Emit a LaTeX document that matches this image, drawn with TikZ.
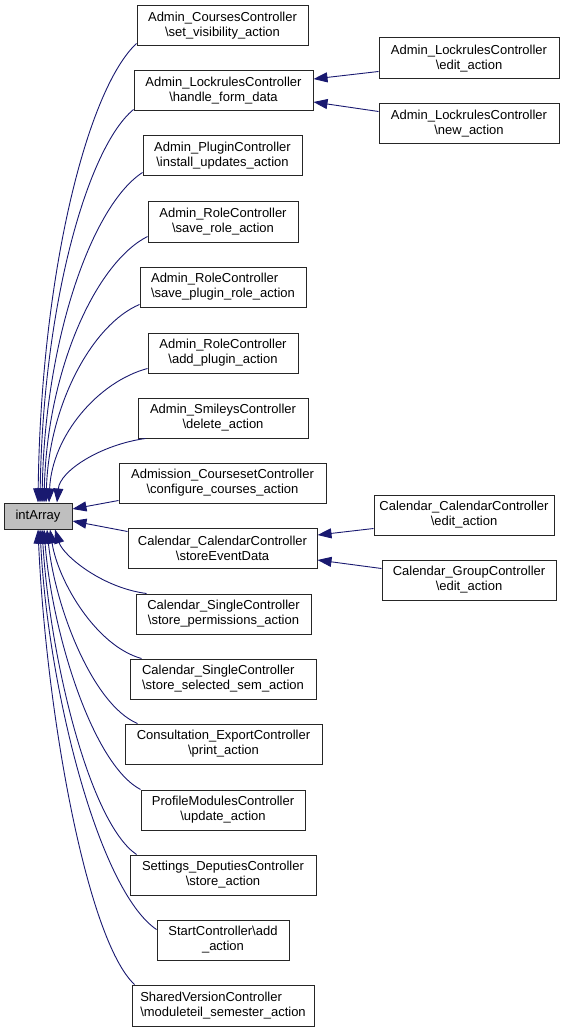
\documentclass[tikz,border=0pt]{standalone}
\usepackage{fontspec}
\setmainfont{Liberation Sans}
\usetikzlibrary{arrows.meta}
\definecolor{edgeblue}{HTML}{191970}
\definecolor{rootgray}{HTML}{BFBFBF}
\newcommand\dlbl[2]{\begingroup\setbox0=\hbox{#1}\setbox2=\hbox{#2}\dimen0=\wd0 \ifdim\wd2>\dimen0 \dimen0=\wd2 \fi\vbox{\hbox to\dimen0{\box0\hfil}\hbox to\dimen0{\hfil\box2\hfil}}\endgroup}
\newcommand\bx[6]{\node[box, minimum width={(#4-#2)*1pt}, minimum height={(#5-#3)*1pt}] (#1) at ({(#2+#4)/2},{(#3+#5)/2}) {#6};}
\begin{document}
\begin{tikzpicture}[x=1pt,y=-1pt,
  box/.style={draw=black!85, line width=1pt, inner sep=0pt, fill=white, font=\fontsize{13}{15}\selectfont},
  root/.style={fill=rootgray},
  edge/.style={draw=edgeblue, line width=0.9pt, -{Triangle[length=14pt,width=10pt,fill=edgeblue]}}]
\useasboundingbox (0,0) rectangle (569,1032);

\bx{cs}{137}{6}{308}{46}{\dlbl{Admin\_CoursesController}{\textbackslash set\_visibility\_action}}
\bx{lh}{134}{71}{313}{111}{\dlbl{Admin\_LockrulesController}{\textbackslash handle\_form\_data}}
\bx{pi}{143}{136}{302}{176}{\dlbl{Admin\_PluginController}{\textbackslash install\_updates\_action}}
\bx{le}{379}{38}{559}{79}{\dlbl{Admin\_LockrulesController}{\textbackslash edit\_action}}
\bx{ln}{379}{104}{559}{144}{\dlbl{Admin\_LockrulesController}{\textbackslash new\_action}}
\bx{rs}{148}{202}{298}{242}{\dlbl{Admin\_RoleController}{\textbackslash save\_role\_action}}
\bx{rp}{140}{267}{306}{307}{\dlbl{Admin\_RoleController}{\textbackslash save\_plugin\_role\_action}}
\bx{ra}{148}{333}{298}{373}{\dlbl{Admin\_RoleController}{\textbackslash add\_plugin\_action}}
\bx{sd}{138}{398}{308}{438}{\dlbl{Admin\_SmileysController}{\textbackslash delete\_action}}
\bx{ac}{119}{463}{326}{503}{\dlbl{Admission\_CoursesetController}{\textbackslash configure\_courses\_action}}
\node[box, root, minimum width=68pt, minimum height=26pt] (ia) at (38,516) {intArray};
\bx{ce}{128}{528}{317}{568}{\dlbl{Calendar\_CalendarController}{\textbackslash storeEventData}}
\bx{cce}{374}{495}{554}{535}{\dlbl{Calendar\_CalendarController}{\textbackslash edit\_action}}
\bx{cge}{382}{560}{556}{600}{\dlbl{Calendar\_GroupController}{\textbackslash edit\_action}}
\bx{sp}{136}{594}{311}{634}{\dlbl{Calendar\_SingleController}{\textbackslash store\_permissions\_action}}
\bx{ss}{130}{659}{316}{699}{\dlbl{Calendar\_SingleController}{\textbackslash store\_selected\_sem\_action}}
\bx{cp}{125}{724}{322}{764}{\dlbl{Consultation\_ExportController}{\textbackslash print\_action}}
\bx{pu}{141}{790}{305}{830}{\dlbl{ProfileModulesController}{\textbackslash update\_action}}
\bx{sdp}{130}{855}{316}{895}{\dlbl{Settings\_DeputiesController}{\textbackslash store\_action}}
\bx{sca}{157}{920}{289}{960}{\dlbl{StartController\textbackslash add}{\_action}}
\bx{sv}{132}{985}{314}{1026}{\dlbl{SharedVersionController}{\textbackslash moduleteil\_semester\_action}}

% edges to top of intArray
\draw[edge] ([yshift=3pt]cs.south west) .. controls (87.5,89) and (41,273) .. (ia.north);
\draw[edge] ([yshift=2pt]lh.south west) .. controls (87,148) and (43,306) .. ([xshift=2pt]ia.north);
\draw[edge] ([yshift=4pt]pi.south west) .. controls (92.5,205) and (45,337.5) .. ([xshift=4pt]ia.north);
\draw[edge] ([yshift=6pt]rs.south west) .. controls (96,262.7) and (47,369.5) .. ([xshift=6pt]ia.north);
\draw[edge] ([yshift=3pt]rp.south west) .. controls (93,324) and (49,403.5) .. ([xshift=8pt]ia.north);
\draw[edge] ([yshift=5pt]ra.south west) .. controls (98.5,381.5) and (52,435.5) .. ([xshift=11pt]ia.north);
\draw[edge] ([xshift=8pt]sd.south west) .. controls (101.5,444.5) and (60,470.5) .. ([xshift=19pt]ia.north);
\draw[edge] ([yshift=3pt]ac.south west) -- ([yshift=7pt]ia.east);
% edges to bottom of intArray
\draw[edge] ([yshift=-4pt]ce.north west) -- ([yshift=-5pt]ia.east);
\draw[edge] ([xshift=11pt]sp.north west) .. controls (101,587.5) and (63,555) .. ([xshift=17pt]ia.south);
\draw[edge] ([xshift=12pt]ss.north west) .. controls (96,646) and (58,581) .. ([xshift=12pt]ia.south);
\draw[edge] ([xshift=13pt]cp.north west) .. controls (92.5,704.5) and (55,607) .. ([xshift=9pt]ia.south);
\draw[edge] (pu.north west) .. controls (92.5,764) and (52,633) .. ([xshift=6pt]ia.south);
\draw[edge] ([xshift=7pt]sdp.north west) .. controls (89.5,822.4) and (50,659.4) .. ([xshift=4pt]ia.south);
\draw[edge] ([yshift=-10pt]sca.north west) .. controls (98.5,890) and (48,689.4) .. ([xshift=2pt]ia.south);
\draw[edge] ([xshift=3pt]sv.north west) .. controls (86.5,939.4) and (46,711.4) .. (ia.south);
% second-level edges
\draw[edge] ([yshift=8pt]le.south west) -- ([yshift=12pt]lh.east);
\draw[edge] ([yshift=-8pt]ln.north west) -- ([yshift=-11pt]lh.east);
\draw[edge] ([yshift=7pt]cce.south west) -- ([yshift=13pt]ce.east);
\draw[edge] ([yshift=-9pt]cge.north west) -- ([yshift=-12pt]ce.east);
\end{tikzpicture}
\end{document}
